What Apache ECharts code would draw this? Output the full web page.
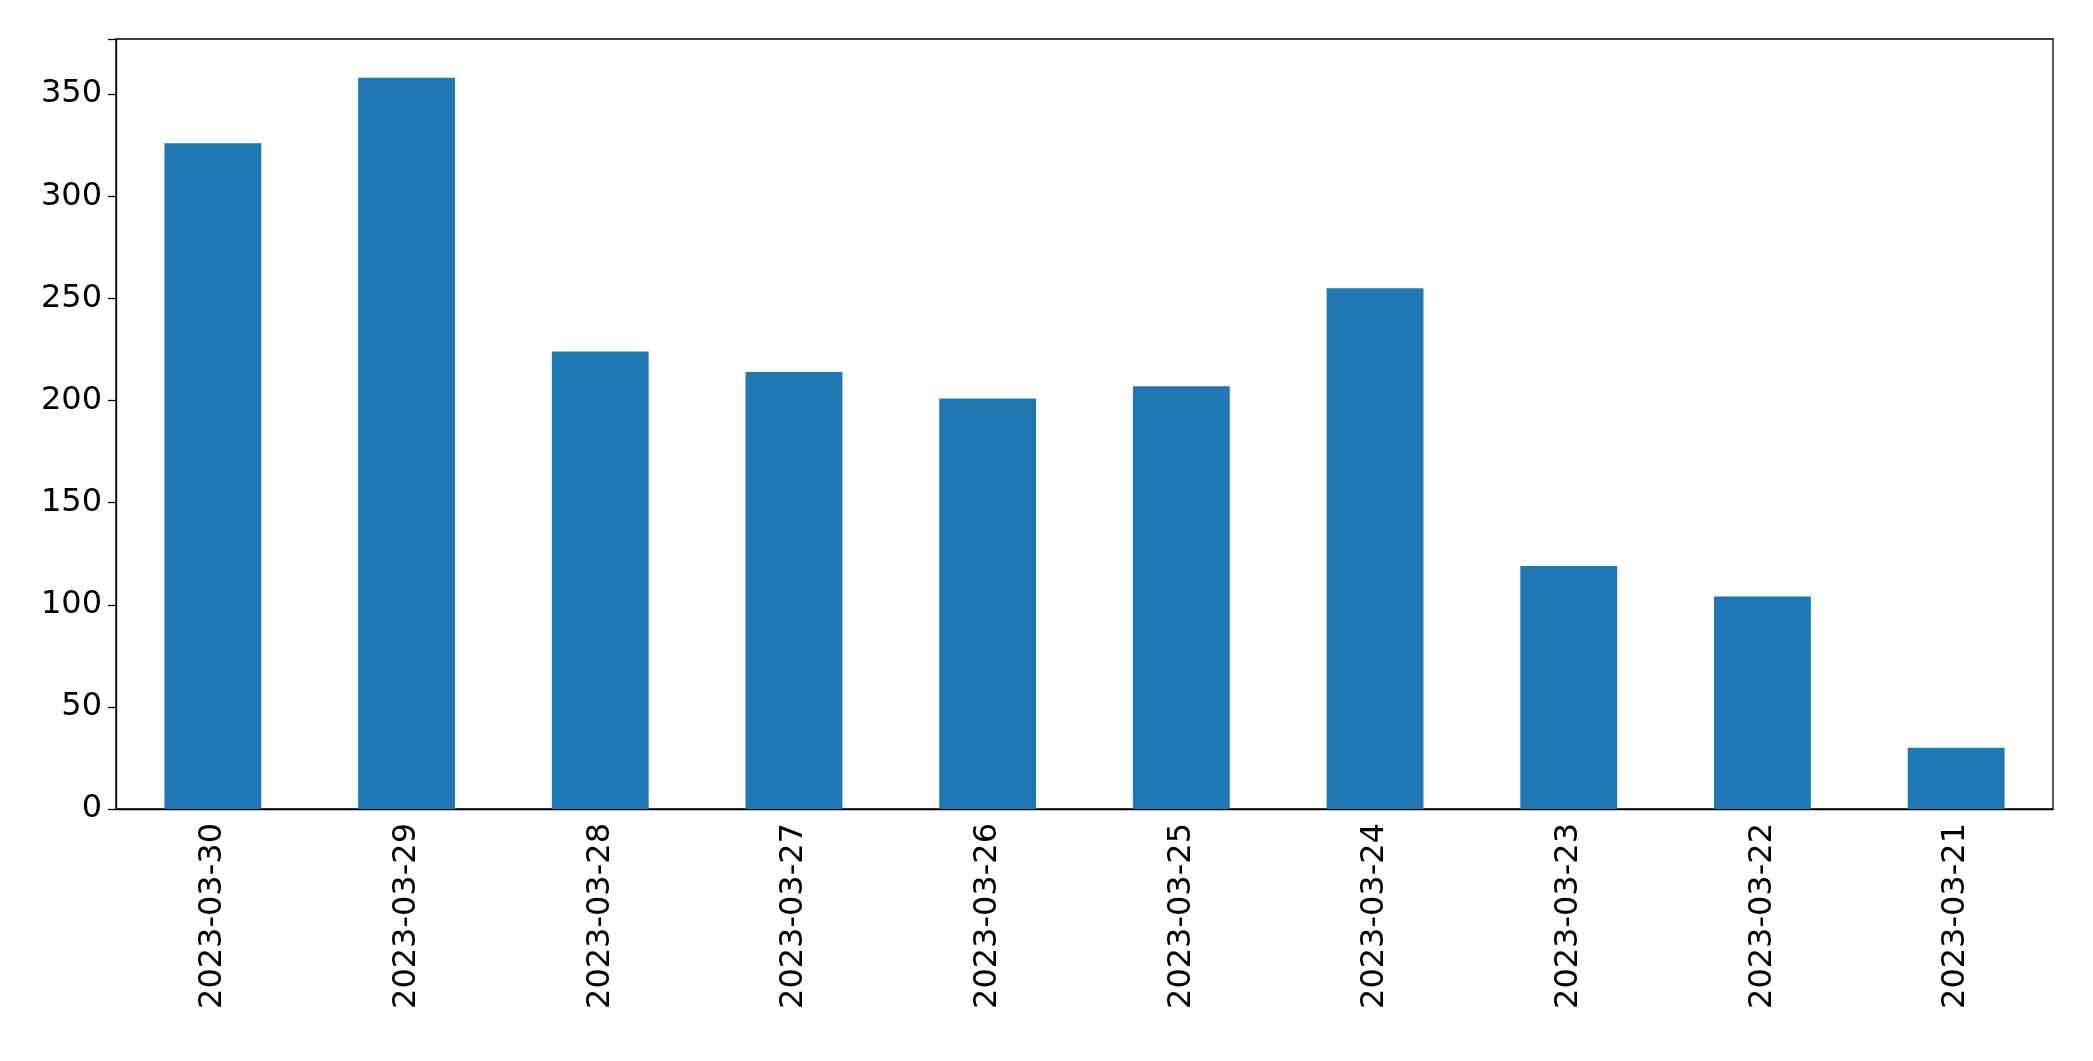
<!DOCTYPE html>
<html>
<head>
<meta charset="utf-8">
<script src="https://cdn.jsdelivr.net/npm/echarts@6/dist/echarts.min.js"></script>
<style>html,body{margin:0;padding:0;background:#fff}#chart{width:2093px;height:1061px}</style>
</head>
<body>
<div id="chart"></div>
<script>
// 日期与数值
var dates = ['2023-03-30', '2023-03-29', '2023-03-28', '2023-03-27', '2023-03-26',
    '2023-03-25', '2023-03-24', '2023-03-23', '2023-03-22', '2023-03-21'];
var counts = [326, 358, 224, 214, 201, 207, 255, 119, 104, 30];

var myChart = echarts.init(document.getElementById('chart'));
var font = 'DejaVu Sans';
myChart.setOption({
    animation: false,
    grid: {
        left: 116, right: 40, top: 39, bottom: 252,
        show: true, borderColor: '#000', borderWidth: 1.3
    },
    xAxis: {
        type: 'category',
        data: dates,
        axisLine: { lineStyle: { color: '#000', width: 1.3 } },
        axisTick: { alignWithLabel: true, length: 8, lineStyle: { color: '#000', width: 1.3 } },
        axisLabel: { rotate: 90, color: '#000', fontSize: 32, fontFamily: font, margin: 14 }
    },
    yAxis: {
        type: 'value',
        min: 0, max: 377, interval: 50,
        splitLine: { show: false },
        axisLine: { show: true, lineStyle: { color: '#000', width: 1.3 } },
        axisTick: { show: true, length: 8, lineStyle: { color: '#000', width: 1.3 } },
        axisLabel: {
            color: '#000', fontSize: 32, fontFamily: font, margin: 14,
            formatter: function (v) { return v % 50 === 0 ? v : ''; }
        }
    },
    series: [{
        type: 'bar',
        data: counts,
        barWidth: '50%',
        itemStyle: { color: '#1f77b4' }
    }]
});
</script>
</body>
</html>
